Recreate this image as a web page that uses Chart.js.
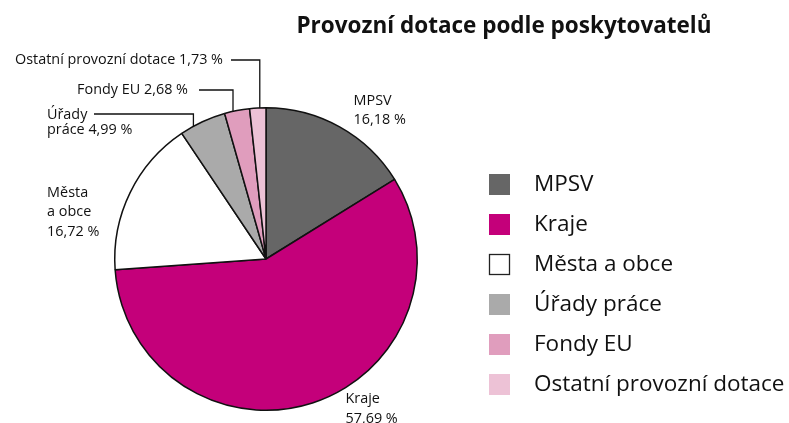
<!DOCTYPE html>
<html>
<head>
<meta charset="utf-8">
<script src="https://cdn.jsdelivr.net/npm/chart.js@4.4.1/dist/chart.umd.min.js"></script>
<style>
  html, body { margin: 0; padding: 0; background: #fff; }
  #wrap { width: 789px; height: 423px; position: relative; }
</style>
</head>
<body>
<div id="wrap"><canvas id="pie"></canvas></div>
<script>
const labels = ["MPSV", "Kraje", "Města a obce", "Úřady práce", "Fondy EU", "Ostatní provozní dotace"];
const values = [16.18, 57.69, 16.72, 4.99, 2.68, 1.73];
const colors = ["#666666", "#c4007a", "#ffffff", "#aaaaaa", "#e09dbd", "#edc2d6"];
const chartTitle = "Provozní dotace podle poskytovatelů";

const FONT = "'Open Sans', sans-serif";

function fmt(v) {
    return v.toFixed(2).replace(".", ",") + " %";
}

// how each slice label is placed: lines of text, offset from the point on the rim
const labelSpec = [
    { lines: (v) => ["MPSV", fmt(v)], dx: 14, dy: -26, gap: 19, align: "left" },
    { lines: (v) => ["Kraje", fmt(v)], dx: 33, dy: -4, gap: 20, align: "left" },
    { lines: (v) => ["Města", "a obce", fmt(v)], dx: -83, dy: 0, gap: 19.5, align: "left" },
    { leader: true, lineY: 114, lineX: 94, dx: -9, lines: (v) => ["Úřady", "práce " + fmt(v)], textX: 47, gap: 15 },
    { leader: true, lineY: 90, lineX: 199, dx: -4, lines: (v) => ["Fondy EU " + fmt(v)], textRight: 188 },
    { leader: true, lineY: 60, lineX: 231, dx: 2, lines: (v) => ["Ostatní provozní dotace " + fmt(v)], textRight: 223 },
];

const decor = {
    id: "decor",
    afterDraw(chart) {
        const ctx = chart.ctx;
        const arcs = chart.getDatasetMeta(0).data;
        ctx.save();

        // title
        ctx.fillStyle = "#111";
        ctx.font = "bold 22.5px " + FONT;
        ctx.textAlign = "center";
        ctx.textBaseline = "middle";
        ctx.fillText(chartTitle, 504, 27);

        // slice labels
        ctx.font = "14.4px " + FONT;
        ctx.fillStyle = "#111";
        ctx.strokeStyle = "#111";
        ctx.lineWidth = 1.3;
        arcs.forEach((arc, i) => {
            const spec = labelSpec[i];
            const p = arc.getProps(["x", "y", "startAngle", "endAngle", "outerRadius"], true);
            const mid = (p.startAngle + p.endAngle) / 2;
            const rx = p.x + Math.cos(mid) * p.outerRadius;
            const ry = p.y + Math.sin(mid) * p.outerRadius;
            const lines = spec.lines(values[i]);
            ctx.textBaseline = "middle";
            if (spec.leader) {
                const x0 = rx + spec.dx;
                const yEdge = p.y - Math.sqrt(Math.max(0, p.outerRadius * p.outerRadius - (x0 - p.x) * (x0 - p.x)));
                ctx.beginPath();
                ctx.moveTo(x0, yEdge);
                ctx.lineTo(x0, spec.lineY);
                ctx.lineTo(spec.lineX, spec.lineY);
                ctx.stroke();
                if (spec.textRight !== undefined) {
                    ctx.textAlign = "right";
                    ctx.fillText(lines[0], spec.textRight, spec.lineY);
                } else {
                    ctx.textAlign = "left";
                    lines.forEach((t, k) => ctx.fillText(t, spec.textX, spec.lineY + 1 + k * spec.gap));
                }
            } else {
                ctx.textAlign = spec.align;
                lines.forEach((t, k) => ctx.fillText(t, rx + spec.dx, ry + spec.dy + k * spec.gap));
            }
        });

        // legend
        ctx.font = "22.5px " + FONT;
        ctx.textAlign = "left";
        ctx.textBaseline = "middle";
        labels.forEach((lab, i) => {
            const y = 184.5 + i * 40;
            ctx.fillStyle = colors[i];
            ctx.fillRect(489, y - 10.5, 21, 21);
            if (colors[i] === "#ffffff") {
                ctx.strokeStyle = "#222";
                ctx.lineWidth = 1.3;
                ctx.strokeRect(489.5, y - 10, 20, 20);
            }
            ctx.fillStyle = "#111";
            ctx.fillText(lab, 534, y);
        });
        ctx.restore();
    }
};

new Chart(document.getElementById("pie"), {
    type: "pie",
    data: {
        labels: labels,
        datasets: [
            {
                data: values,
                backgroundColor: colors,
                borderColor: "#111",
                borderWidth: 1.5,
            },
        ],
    },
    options: {
        responsive: true,
        maintainAspectRatio: false,
        animation: false,
        layout: { padding: { left: 114, right: 371, top: 107, bottom: 12 } },
        plugins: {
            legend: { display: false },
            tooltip: { enabled: false },
        },
    },
    plugins: [decor],
});
</script>
</body>
</html>
